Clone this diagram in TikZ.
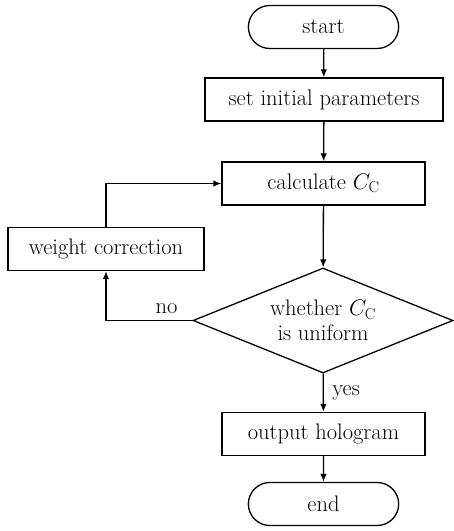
\documentclass[tikz,border=0pt]{standalone}
\usepackage{fix-cm}
\usepackage{fontspec}
\usetikzlibrary{shapes.geometric,shapes.misc,arrows.meta}
\begin{document}
\begin{tikzpicture}[x=1pt,y=1pt,line width=1.3pt,
	font=\fontsize{22.5}{25}\selectfont,
	>={Latex[length=8pt,width=6.5pt]},
	terminal/.style={rounded rectangle, draw, minimum width=157pt, minimum height=43pt},
	process/.style={rectangle, draw, minimum height=43pt},
	decision/.style={diamond, draw, aspect=2.5, inner sep=0pt, minimum width=260pt, minimum height=105pt, align=center}]
	\useasboundingbox (0,0) rectangle (454,531);
	\node (start)  at (323.5, 504.0)	[terminal]				{start};
	\node (init)   at (324.0, 431.5)	[process, minimum width=238pt]	{set initial parameters};
	\node (calc)   at (323.5, 347.5)	[process, minimum width=203pt]	{calculate $C_{\mathrm{C}}$};
	\node (weight) at (106.0, 282.0)	[process, minimum width=196pt]	{weight correction};
	\node (check)  at (323.0, 210.5)	[decision]				{whether $C_{\mathrm{C}}$\\is uniform};
	\node (output) at (323.5,  97.0)	[process, minimum width=203pt]	{output hologram};
	\node (stop)   at (323.5,  27.0)	[terminal]				{end};
	\draw[->] (start) -- (init);
	\draw[->] (init) -- (calc);
	\draw[->] (calc) -- (check);
	\draw[->] (check) -- node[right=5pt] {yes} (output);
	\draw[->] (output) -- (stop);
	\draw[->] (check.west) -| node[pos=0.15, above=3pt] {no} (weight.south);
	\draw[->] (weight.north) |- (calc.west);
\end{tikzpicture}
\end{document}
